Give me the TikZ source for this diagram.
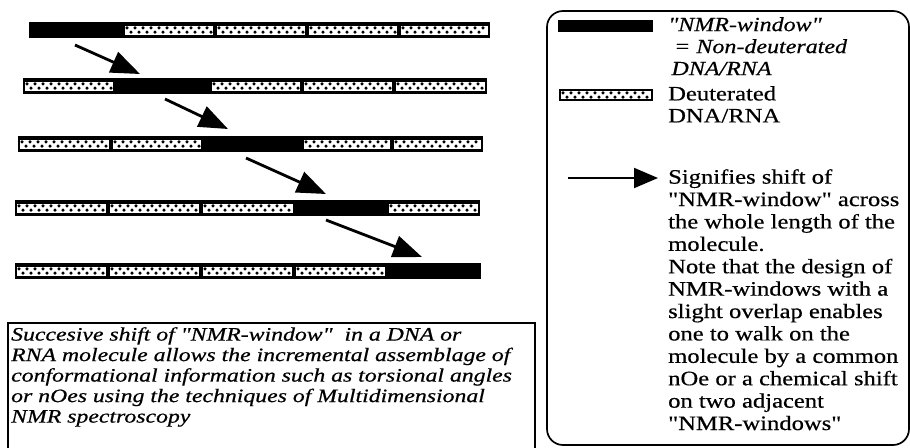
\documentclass[tikz,border=0pt]{standalone}
\usepackage{fontspec}
\setmainfont{Liberation Serif}
\newfontfamily\keyfont[FakeStretch=1.2,FakeBold=0.5]{Liberation Serif}
\newfontfamily\capfont[FakeStretch=1.25,FakeBold=0.6]{Liberation Serif}
\usetikzlibrary{arrows.meta}

% one deuterated stretch: white band with a staggered row of dots
\newcommand\deutseg[4]{% x1, x2, y centre, half height of the white band
  \fill[white] ({#1+2},{#3-#4}) rectangle ({#2-2},{#3+#4});
  \pgfmathtruncatemacro\ndots{(#2-#1-8)/4}
  \foreach \k in {0,...,\ndots}{
    \pgfmathsetmacro\dy{ifthenelse(isodd(\k),2.1,-2.1)}
    \fill ({#1+4+4*\k},{#3+\dy}) circle (1.75pt);
  }
}

\tikzset{
  shiftarrow/.style={line width=2.8pt, -{Triangle[length=29pt,width=22pt]}},
  keyarrow/.style={line width=2pt, -{Triangle[length=24pt,width=20pt]}},
  frame/.style={line width=1.7pt},
  keytxt/.style={anchor=north west, align=left, inner sep=0pt,
    font=\keyfont\fontsize{20.5}{22.4}\selectfont},
}

\begin{document}
\begin{tikzpicture}[x=1pt,y=-1pt]
\useasboundingbox (0,0) rectangle (910,447);

% ---- strands: full black bar, then the deuterated pieces
% strand 1
\fill (29,22) rectangle (490,38);
\deutseg{123}{215}{30}{4.5}\deutseg{215}{307}{30}{4.5}
\deutseg{307}{399}{30}{4.5}\deutseg{399}{490}{30}{4.5}
% strand 2
\fill (23,78) rectangle (487,94);
\deutseg{23}{115}{86}{4.5}\deutseg{210}{302}{86}{4.5}
\deutseg{302}{394}{86}{4.5}\deutseg{394}{487}{86}{4.5}
% strand 3
\fill (18,136) rectangle (483,152);
\deutseg{18}{111}{144}{4.5}\deutseg{111}{203}{144}{4.5}
\deutseg{302}{392}{144}{4.5}\deutseg{392}{483}{144}{4.5}
% strand 4
\fill (15,200) rectangle (480,216);
\deutseg{15}{108}{208}{4.5}\deutseg{108}{201}{208}{4.5}
\deutseg{201}{295}{208}{4.5}\deutseg{387}{480}{208}{4.5}
% strand 5
\fill (15,263) rectangle (481,279);
\deutseg{15}{108}{271}{4.5}\deutseg{108}{201}{271}{4.5}
\deutseg{201}{294}{271}{4.5}\deutseg{294}{387}{271}{4.5}

% ---- shifts of the window
\coordinate (s1) at (75,45);   \coordinate (e1) at (140,74);
\coordinate (s2) at (165,99);  \coordinate (e2) at (228,129);
\coordinate (s3) at (246,158); \coordinate (e3) at (326,194);
\coordinate (s4) at (326,220); \coordinate (e4) at (422,257);
\draw[shiftarrow] (s1) -- (e1);
\draw[shiftarrow] (s2) -- (e2);
\draw[shiftarrow] (s3) -- (e3);
\draw[shiftarrow] (s4) -- (e4);

% ---- caption box (runs off the bottom)
\draw[frame] (8,452) -- (8,323) -- (535,323) -- (535,452);
\node[anchor=north west, align=left, inner sep=0pt,
  font=\capfont\itshape\fontsize{19}{20.5}\selectfont] (caption) at (11,327)
  {Succesive shift of "NMR-window"\ \ in a DNA or\\
   RNA molecule allows the incremental assemblage of\\
   conformational information such as torsional angles\\
   or nOes using the techniques of Multidimensional\\
   NMR spectroscopy};

% ---- key
\draw[frame, rounded corners=16pt] (547,11) rectangle (909,445);
\fill (558,20) rectangle (653,32);
\node[keytxt, font=\keyfont\itshape\fontsize{20}{22}\selectfont] (kwin) at (668,17)
  {"NMR-window"\\
   \ = Non-deuterated\\
   \,DNA/RNA};
\fill (559,89) rectangle (653,101);
\deutseg{559}{653}{95}{4}
\node[keytxt, font=\keyfont\fontsize{20.5}{22}\selectfont] (kdeut) at (668,86) {Deuterated\\DNA/RNA};
\coordinate (ks) at (568,178); \coordinate (ke) at (658,178);
\draw[keyarrow] (ks) -- (ke);
\node[keytxt] (kshift) at (668,169)
  {Signifies shift of\\
   "NMR-window" across\\
   the whole length of the\\
   molecule.\\
   Note that the design of\\
   NMR-windows with a\\
   slight overlap enables\\
   one to walk on the\\
   molecule by a common\\
   nOe or a chemical shift\\
   on two adjacent\\
   "NMR-windows"};
\end{tikzpicture}
\end{document}
